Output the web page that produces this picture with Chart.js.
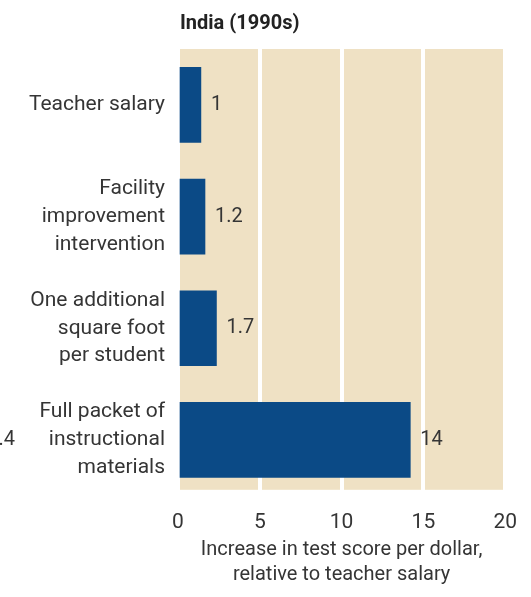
<!DOCTYPE html>
<html lang="en">
  <head>
    <meta charset="UTF-8" />
    <title>India (1990s)</title>
    <script src="https://cdn.jsdelivr.net/npm/chart.js"></script>
    <style>
      html, body { margin: 0; padding: 0; background: #ffffff; }
      #wrap { width: 531px; height: 597px; position: relative; }
    </style>
  </head>
  <body>
    <div id="wrap"><canvas id="chart"></canvas></div>
    <script>
      // data
      const categories = [
        ["Teacher salary"],
        ["Facility", "improvement", "intervention"],
        ["One additional", "square foot", "per student"],
        ["Full packet of", "instructional", "materials"]
      ];
      const barValues = [1.4, 1.65, 2.35, 14.2];
      const valueLabels = ["1", "1.2", "1.7", "14"];
      const xTicks = [0, 5, 10, 15, 20];
      const chartTitle = "India (1990s)";
      const axisTitle = ["Increase in test score per dollar,", "relative to teacher salary"];

      const FONT = "Roboto, 'Noto Sans', sans-serif";
      const TEXT = "#353535";

      // tan panel behind the plot
      const panel = {
        id: "panel",
        beforeDraw(chart) {
          const { ctx, chartArea: a } = chart;
          ctx.save();
          ctx.fillStyle = "#efe1c4";
          ctx.fillRect(a.left, a.top, a.right - a.left, a.bottom - a.top - 6);
          ctx.restore();
        }
      };

      // title, value labels, cut-off neighbour label
      const extras = {
        id: "extras",
        afterDatasetsDraw(chart) {
          const { ctx, chartArea: a } = chart;
          ctx.save();
          ctx.fillStyle = "#222";
          ctx.font = "bold 20px " + FONT;
          ctx.textAlign = "left";
          ctx.textBaseline = "middle";
          ctx.fillText(chartTitle, a.left + 2, 24);

          ctx.fillStyle = TEXT;
          ctx.font = "20px " + FONT;
          chart.getDatasetMeta(0).data.forEach((bar, i) => {
            ctx.fillText(valueLabels[i], bar.x + 10, bar.y);
          });

          ctx.textAlign = "right";
          ctx.fillText("1.4", 15, chart.getDatasetMeta(0).data[3].y);
          ctx.restore();
        }
      };

      new Chart(document.getElementById("chart"), {
        type: "bar",
        data: {
          labels: categories,
          datasets: [
            {
              data: barValues,
              backgroundColor: "#0b4a86",
              barThickness: 75
            }
          ]
        },
        options: {
          indexAxis: "y",
          responsive: true,
          maintainAspectRatio: false,
          animation: false,
          layout: { padding: { top: 49, right: 21, bottom: 10, left: 0 } },
          plugins: {
            legend: { display: false },
            tooltip: { enabled: false }
          },
          scales: {
            x: {
              min: 0,
              max: 20,
              afterBuildTicks(scale) {
                scale.ticks = xTicks.map(v => ({ value: v }));
              },
              border: { display: false },
              grid: { color: "#ffffff", lineWidth: 4, drawTicks: false },
              ticks: { color: TEXT, font: { family: FONT, size: 21 }, padding: 14 },
              title: {
                display: true,
                text: axisTitle,
                color: TEXT,
                font: { family: FONT, size: 20, lineHeight: 1.25 },
                padding: { top: -12, bottom: 0 }
              }
            },
            y: {
              border: { display: false },
              grid: { display: false, drawTicks: false },
              afterFit(scale) {
                scale.width = 178;
                scale.paddingTop = 0;
                scale.paddingBottom = 0;
              },
              ticks: {
                color: TEXT,
                font: { family: FONT, size: 21, lineHeight: 1.32 },
                padding: 13
              }
            }
          }
        },
        plugins: [panel, extras]
      });
    </script>
  </body>
</html>
